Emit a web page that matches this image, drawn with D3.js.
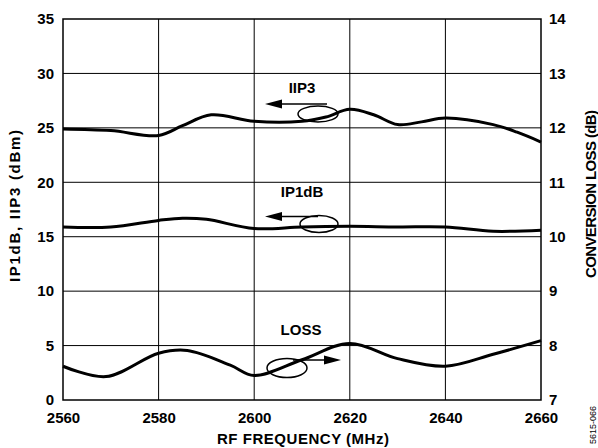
<!DOCTYPE html>
<html><head><meta charset="utf-8">
<script src="https://cdn.jsdelivr.net/npm/d3@7"></script>
<style>body{margin:0;background:#fff}svg{display:block}text{font-family:"Liberation Sans",Arial,sans-serif;font-weight:bold;fill:#000}</style>
</head><body>
<script>
const freqTicks = [2560, 2580, 2600, 2620, 2640, 2660];
const leftTicks = [0, 5, 10, 15, 20, 25, 30, 35];
const rightTicks = [7, 8, 9, 10, 11, 12, 13, 14];
const iip3Freq = [2560, 2570, 2580, 2585, 2591, 2600, 2610, 2615, 2620, 2625, 2630, 2635, 2640, 2650, 2655, 2660];
const iip3Vals = [24.9, 24.75, 24.3, 25.2, 26.2, 25.6, 25.6, 26.0, 26.7, 26.2, 25.3, 25.55, 25.9, 25.3, 24.6, 23.7];
const ip1Freq = [2560, 2570, 2580, 2585, 2590, 2600, 2610, 2620, 2630, 2640, 2650, 2660];
const ip1Vals = [15.9, 15.9, 16.5, 16.7, 16.6, 15.75, 15.9, 15.95, 15.9, 15.9, 15.5, 15.6];
const lossFreq = [2560, 2569, 2580, 2586, 2595, 2600, 2610, 2620, 2630, 2640, 2650, 2660];
const lossVals = [7.62, 7.43, 7.86, 7.91, 7.64, 7.45, 7.74, 8.04, 7.76, 7.62, 7.84, 8.09];

const W = 598, H = 448;
const L = 63, R = 541, T = 19, B = 400;
const FS = "15px";
const svg = d3.select("body").append("svg").attr("width", W).attr("height", H);
const x = d3.scaleLinear().domain([2560, 2660]).range([L, R]);
const y = d3.scaleLinear().domain([0, 35]).range([B, T]);
const y2 = d3.scaleLinear().domain([7, 14]).range([B, T]);

// grid
const g = svg.append("g");
g.selectAll(".vg").data(freqTicks.slice(1, -1)).enter().append("line")
  .attr("x1", d => x(d)).attr("x2", d => x(d)).attr("y1", T).attr("y2", B)
  .attr("stroke", "#000").attr("stroke-width", 1);
g.selectAll(".hg").data(leftTicks.slice(1, -1)).enter().append("line")
  .attr("x1", L).attr("x2", R).attr("y1", d => y(d)).attr("y2", d => y(d))
  .attr("stroke", "#000").attr("stroke-width", 1);

// axes (ticks hidden, labels only)
const fmt = d3.format("d");
const axG = svg.append("g").attr("transform", `translate(0,${B})`)
  .call(d3.axisBottom(x).tickValues(freqTicks).tickFormat(fmt).tickSize(0).tickPadding(12));
const ayG = svg.append("g").attr("transform", `translate(${L},0)`)
  .call(d3.axisLeft(y).tickValues(leftTicks).tickFormat(fmt).tickSize(0).tickPadding(9));
const ay2G = svg.append("g").attr("transform", `translate(${R},0)`)
  .call(d3.axisRight(y2).tickValues(rightTicks).tickFormat(fmt).tickSize(0).tickPadding(8));
[axG, ayG, ay2G].forEach(a => {
  a.select(".domain").remove();
  a.selectAll("text").style("font-family", '"Liberation Sans",Arial,sans-serif').style("font-weight", "bold").style("font-size", FS).attr("fill", "#000");
});

// frame
svg.append("rect").attr("x", L).attr("y", T).attr("width", R - L).attr("height", B - T)
  .attr("fill", "none").attr("stroke", "#000").attr("stroke-width", 1.5);

// curves
const line = d3.line().curve(d3.curveCatmullRom.alpha(0.5));
function draw(fr, vals, sc) {
  svg.append("path").attr("d", line(fr.map((f, i) => [x(f), sc(vals[i])])))
    .attr("fill", "none").attr("stroke", "#000").attr("stroke-width", 3).attr("stroke-linejoin", "round");
}
draw(iip3Freq, iip3Vals, y);
draw(ip1Freq, ip1Vals, y);
draw(lossFreq, lossVals, y2);

// annotations
function annot(cx, cy, rx, ry, x1, ya, x2, label, lx, ly, bg) {
  svg.append("ellipse").attr("cx", cx).attr("cy", cy).attr("rx", rx).attr("ry", ry)
    .attr("fill", "none").attr("stroke", "#000").attr("stroke-width", 1.5);
  const dir = x2 > x1 ? 1 : -1;
  const hb = x2 - dir * 17;
  svg.append("line").attr("x1", x1).attr("y1", ya).attr("x2", hb).attr("y2", ya)
    .attr("stroke", "#000").attr("stroke-width", 1.5);
  svg.append("path").attr("d", `M${x2},${ya}L${hb},${ya - 4.5}L${hb},${ya + 4.5}Z`).attr("fill", "#000");
  if (bg) svg.append("rect").attr("x", lx - 35).attr("y", ly - 12).attr("width", 70).attr("height", 16).attr("fill", "#fff");
  svg.append("text").attr("x", lx).attr("y", ly).attr("text-anchor", "middle").style("font-size", FS).text(label);
}
annot(318, 114, 20, 8, 327, 104, 265, "IIP3", 302, 92.5, false);
annot(319, 224, 19, 8.5, 318, 216.5, 265, "IP1dB", 302, 197, true);
annot(287, 368, 20, 9.5, 293, 360, 341, "LOSS", 301, 334.5, false);

// axis titles
svg.append("text").attr("x", 303).attr("y", 444).attr("text-anchor", "middle").style("font-size", FS)
  .attr("textLength", 172).attr("lengthAdjust", "spacing").text("RF FREQUENCY (MHz)");
svg.append("text").attr("transform", "translate(20,206) rotate(-90)").attr("text-anchor", "middle").style("font-size", FS)
  .attr("textLength", 152).attr("lengthAdjust", "spacing").text("IP1dB, IIP3 (dBm)");
svg.append("text").attr("transform", "translate(596,194) rotate(-90)").attr("text-anchor", "middle").style("font-size", FS)
  .attr("textLength", 168).attr("lengthAdjust", "spacing").text("CONVERSION LOSS (dB)");
svg.append("text").attr("transform", "translate(596,425) rotate(-90)").attr("text-anchor", "middle")
  .style("font-size", "9px").style("font-weight", "normal").text("5615-066");
</script>
</body></html>
